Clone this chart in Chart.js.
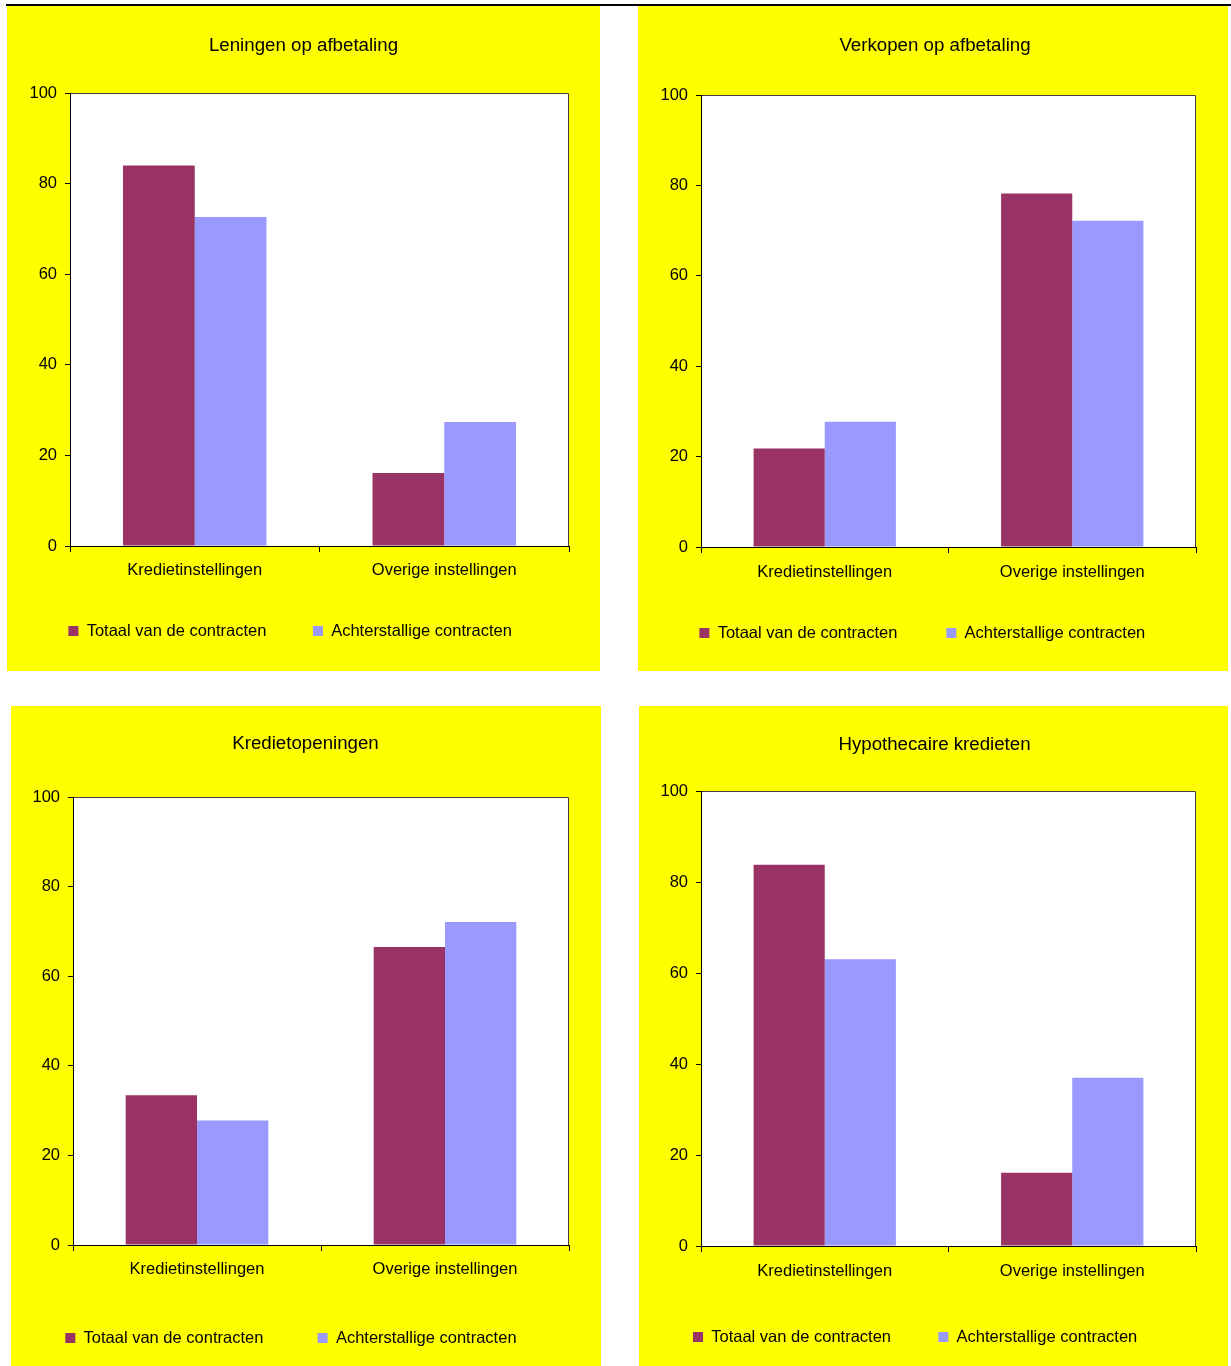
<!DOCTYPE html>
<html><head><meta charset="utf-8">
<script src="https://cdn.jsdelivr.net/npm/chart.js@4"></script>
<style>
body{margin:0;background:#fff;width:1231px;height:1366px;position:relative;overflow:hidden}
#topline{position:absolute;left:6px;top:4px;width:1225px;height:2px;background:#000}
.panel{position:absolute;background:#ffff00}
.panel canvas{display:block}
</style></head><body>
<div id="topline"></div>
<div class="panel" style="left:7px;top:6px;width:593px;height:665px"><canvas id="c0" width="593" height="665"></canvas></div>
<div class="panel" style="left:638px;top:6px;width:590px;height:665px"><canvas id="c1" width="590" height="665"></canvas></div>
<div class="panel" style="left:11px;top:706px;width:590px;height:660px"><canvas id="c2" width="590" height="660"></canvas></div>
<div class="panel" style="left:639px;top:706px;width:589px;height:660px"><canvas id="c3" width="589" height="660"></canvas></div>
<script>
// ---- data ----
const categories = ['Kredietinstellingen', 'Overige instellingen'];
const seriesNames = ['Totaal van de contracten', 'Achterstallige contracten'];
const chartTitles = ['Leningen op afbetaling', 'Verkopen op afbetaling', 'Kredietopeningen', 'Hypothecaire kredieten'];
const yTicks = [0, 20, 40, 60, 80, 100];

const leningenTotaal = [84.0, 16.1];
const leningenAchterstallig = [72.6, 27.4];
const verkopenTotaal = [21.8, 78.2];
const verkopenAchterstallig = [27.7, 72.2];
const kredietopeningenTotaal = [33.4, 66.5];
const kredietopeningenAchterstallig = [27.8, 72.1];
const hypothecairTotaal = [83.8, 16.1];
const hypothecairAchterstallig = [63.0, 37.0];

const panelData = [
  [leningenTotaal, leningenAchterstallig],
  [verkopenTotaal, verkopenAchterstallig],
  [kredietopeningenTotaal, kredietopeningenAchterstallig],
  [hypothecairTotaal, hypothecairAchterstallig]
];

// ---- styles / layout ----
const seriesColors = ['#993366', '#9999ff'];
const FONT = "'Liberation Sans', Arial, Helvetica, sans-serif";
const TICK_SIZE = 16.5, TITLE_SIZE = 18.7;
const layouts = [
  {W:593, H:665, plotL:63, plotR:562, plotT:87, plotB:540, tx:296.5, ty:40, lx:61.4, P:46.5, ly:625, cly:564},
  {W:590, H:665, plotL:63, plotR:558, plotT:89, plotB:541, tx:297, ty:40, lx:61.4, P:48.9, ly:627, cly:566},
  {W:590, H:660, plotL:62, plotR:558, plotT:91, plotB:539, tx:294.5, ty:38, lx:53.5, P:54.3, ly:632, cly:563},
  {W:589, H:660, plotL:62, plotR:557, plotT:85, plotB:540, tx:295.5, ty:39, lx:54, P:47.3, ly:631, cly:565}
];

Chart.defaults.color = '#000';
Chart.defaults.font.family = FONT;

const framePlugin = {
  id: 'frame',
  beforeDraw(chart) {
    // let category labels extend below the axis box (no clipping)
    chart.scales.x._computeLabelArea = function () { return undefined; };
    const {ctx, chartArea: a} = chart;
    ctx.save();
    ctx.fillStyle = '#ffffff';
    ctx.fillRect(a.left, a.top, a.right - a.left, a.bottom - a.top);
    ctx.strokeStyle = '#404040';
    ctx.lineWidth = 1;
    const t = Math.round(a.top) + 0.5, r = Math.round(a.right) - 0.5;
    ctx.beginPath();
    ctx.moveTo(a.left, t); ctx.lineTo(r, t); ctx.lineTo(r, a.bottom);
    ctx.stroke();
    ctx.restore();
  }
};

layouts.forEach((s, i) => {
  const lh = TITLE_SIZE * 1.2;
  const L = Math.max(0, s.lx - s.P);
  const R = s.W - 2 * s.tx + L;
  const X = s.W - R - s.plotR;
  const yW = s.plotL - L;
  const Tt = s.ty - lh / 2;
  const Tb = s.plotT - Tt - lh;
  const xAxisH = s.ly - s.plotB - s.P - TICK_SIZE / 2;
  const tickLenX = 6;
  const tickPad = s.cly - s.plotB - tickLenX - TICK_SIZE * 1.2 / 2;
  const legendH = 10 + TICK_SIZE + s.P;
  const B = s.H - s.plotB - xAxisH - legendH;

  new Chart(document.getElementById('c' + i), {
    type: 'bar',
    data: {
      labels: categories,
      datasets: panelData[i].map((vals, k) => ({
        label: seriesNames[k],
        data: vals,
        backgroundColor: seriesColors[k],
        borderWidth: 0,
        categoryPercentage: 0.575,
        barPercentage: 1.0,
        yAxisID: 'y'
      }))
    },
    options: {
      responsive: false,
      animation: false,
      events: [],
      layout: {padding: {left: L, right: R, top: 0, bottom: B}},
      plugins: {
        tooltip: {enabled: false},
        title: {
          display: true,
          text: chartTitles[i],
          color: '#000',
          font: {size: TITLE_SIZE, weight: 'normal', family: FONT},
          padding: {top: Tt, bottom: Tb}
        },
        legend: {
          display: true,
          position: 'bottom',
          align: 'start',
          labels: {
            boxWidth: 10, boxHeight: 10,
            padding: s.P,
            color: '#000',
            font: {size: TICK_SIZE, family: FONT}
          }
        }
      },
      scales: {
        x: {
          type: 'category',
          offset: true,
          z: 1,
          grid: {display: true, drawOnChartArea: false, drawTicks: true, tickLength: tickLenX, color: '#000', offset: true},
          border: {display: true, color: '#000', width: 1},
          ticks: {padding: tickPad, color: '#000', font: {size: TICK_SIZE, family: FONT}, maxRotation: 0, autoSkip: false},
          afterFit(sc) { sc.height = xAxisH; }
        },
        y: {
          type: 'linear',
          position: 'left',
          min: yTicks[0],
          max: yTicks[yTicks.length - 1],
          z: 1,
          grid: {display: true, drawOnChartArea: false, drawTicks: true, tickLength: 5, color: '#000'},
          border: {display: true, color: '#000', width: 1},
          ticks: {stepSize: yTicks[1] - yTicks[0], padding: 8, color: '#000', font: {size: TICK_SIZE, family: FONT}},
          afterFit(sc) { sc.width = yW; }
        },
        y2: {
          type: 'linear',
          position: 'right',
          display: true,
          grid: {display: false},
          border: {display: false},
          ticks: {display: false},
          afterFit(sc) { sc.width = X; }
        }
      }
    },
    plugins: [framePlugin]
  });
});
</script>
</body></html>
